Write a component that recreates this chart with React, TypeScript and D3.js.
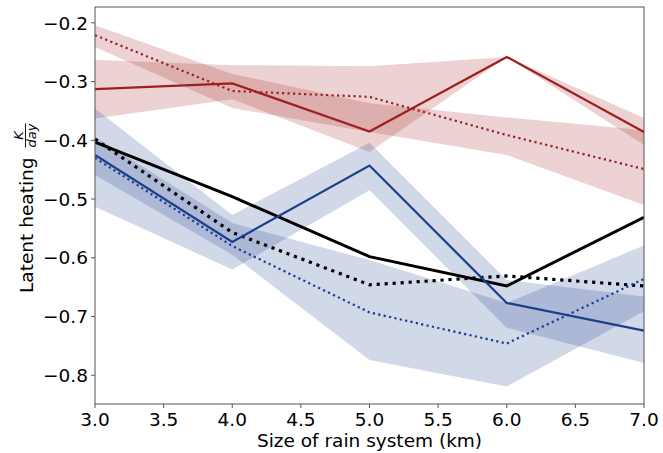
import React from "react";
import * as d3 from "d3";

const sizes = [3, 4, 5, 6, 7];

const redSolid = [-0.313, -0.303, -0.385, -0.258, -0.386];
const redSolidHi = [-0.263, -0.272, -0.274, -0.258, -0.362];
const redSolidLo = [-0.363, -0.33, -0.42, -0.258, -0.408];

const redDotted = [-0.221, -0.316, -0.326, -0.391, -0.449];
const redDottedHi = [-0.204, -0.287, -0.337, -0.361, -0.383];
const redDottedLo = [-0.241, -0.345, -0.386, -0.425, -0.51];

const blueSolid = [-0.425, -0.573, -0.443, -0.677, -0.724];
const blueSolidHi = [-0.346, -0.527, -0.404, -0.638, -0.666];
const blueSolidLo = [-0.513, -0.62, -0.485, -0.719, -0.779];

const blueDotted = [-0.43, -0.58, -0.693, -0.746, -0.636];
const blueDottedHi = [-0.394, -0.541, -0.604, -0.677, -0.579];
const blueDottedLo = [-0.459, -0.595, -0.774, -0.819, -0.691];

const blackSolid = [-0.403, -0.496, -0.598, -0.648, -0.531];
const blackDotted = [-0.398, -0.557, -0.646, -0.631, -0.648];

const xTicks = [3.0, 3.5, 4.0, 4.5, 5.0, 5.5, 6.0, 6.5, 7.0];
const yTicks = [-0.2, -0.3, -0.4, -0.5, -0.6, -0.7, -0.8];

const RED = "#9e1f1f";
const BLUE = "#1a3d8c";

const W = 663;
const H = 453;
const L = 95;
const R = 644;
const T = 7;
const B = 404;

export default function App() {
  const x = d3.scaleLinear().domain([3, 7]).range([L, R]);
  const y = d3.scaleLinear().domain([-0.849, -0.173]).range([B, T]);

  const line = (vals: number[]) =>
    d3
      .line<number>()
      .x((_, i) => x(sizes[i]))
      .y((d) => y(d))(vals) as string;
  const band = (lo: number[], hi: number[]) =>
    d3
      .area<number>()
      .x((_, i) => x(sizes[i]))
      .y0((_, i) => y(lo[i]))
      .y1((_, i) => y(hi[i]))(sizes) as string;

  const fmt = (v: number) => v.toFixed(1).replace("-", "\u2212");
  const font = "DejaVu Sans, sans-serif";
  const fs = 18.5;

  return (
    <svg
      width={W}
      height={H}
      style={{ position: "absolute", left: 0, top: 0, background: "#fff" }}
      fontFamily={font}
    >
      <defs>
        <clipPath id="plot">
          <rect x={L} y={T} width={R - L} height={B - T} />
        </clipPath>
      </defs>
      <rect x={0} y={0} width={W} height={H} fill="#fff" />
      <g clipPath="url(#plot)">
        <path d={band(redSolidLo, redSolidHi)} fill={RED} fillOpacity={0.2} />
        <path d={band(redDottedLo, redDottedHi)} fill={RED} fillOpacity={0.2} />
        <path d={band(blueSolidLo, blueSolidHi)} fill={BLUE} fillOpacity={0.2} />
        <path d={band(blueDottedLo, blueDottedHi)} fill={BLUE} fillOpacity={0.2} />
        <path d={line(blackSolid)} fill="none" stroke="#000" strokeWidth={3} />
        <path
          d={line(blackDotted)}
          fill="none"
          stroke="#000"
          strokeWidth={3.2}
          strokeDasharray="3.2,4.8"
        />
        <path d={line(redSolid)} fill="none" stroke={RED} strokeWidth={2.2} />
        <path
          d={line(redDotted)}
          fill="none"
          stroke={RED}
          strokeWidth={2.2}
          strokeDasharray="2.2,3.3"
        />
        <path d={line(blueSolid)} fill="none" stroke={BLUE} strokeWidth={2.2} />
        <path
          d={line(blueDotted)}
          fill="none"
          stroke={BLUE}
          strokeWidth={2.2}
          strokeDasharray="2.2,3.3"
        />
      </g>
      <rect
        x={L}
        y={T}
        width={R - L}
        height={B - T}
        fill="none"
        stroke="#555"
        strokeWidth={1}
      />
      {xTicks.map((t) => (
        <g key={"x" + t}>
          <line x1={x(t)} x2={x(t)} y1={B} y2={B + 4} stroke="#555" />
          <text x={x(t)} y={425.5} textAnchor="middle" fontSize={fs} fill="#000">
            {t.toFixed(1)}
          </text>
        </g>
      ))}
      {yTicks.map((t) => (
        <g key={"y" + t}>
          <line x1={L - 4} x2={L} y1={y(t)} y2={y(t)} stroke="#555" />
          <text
            x={L - 7}
            y={y(t)}
            dy="0.36em"
            textAnchor="end"
            fontSize={fs}
            fill="#000"
          >
            {fmt(t)}
          </text>
        </g>
      ))}
      <text x={(L + R) / 2} y={446.5} textAnchor="middle" fontSize={fs} fill="#000">
        Size of rain system (km)
      </text>
      <g transform={`translate(33, ${(T + B) / 2}) rotate(-90)`}>
        <text x={48} y={0} textAnchor="end" fontSize={fs} fill="#000">
          Latent heating
        </text>
        <text x={70} y={-10.5} textAnchor="middle" fontSize={13} fontStyle="italic" fill="#000">
          K
        </text>
        <line x1={58} x2={82} y1={-7.5} y2={-7.5} stroke="#000" strokeWidth={0.9} />
        <text x={70} y={2.5} textAnchor="middle" fontSize={13} fontStyle="italic" fill="#000">
          day
        </text>
      </g>
    </svg>
  );
}
